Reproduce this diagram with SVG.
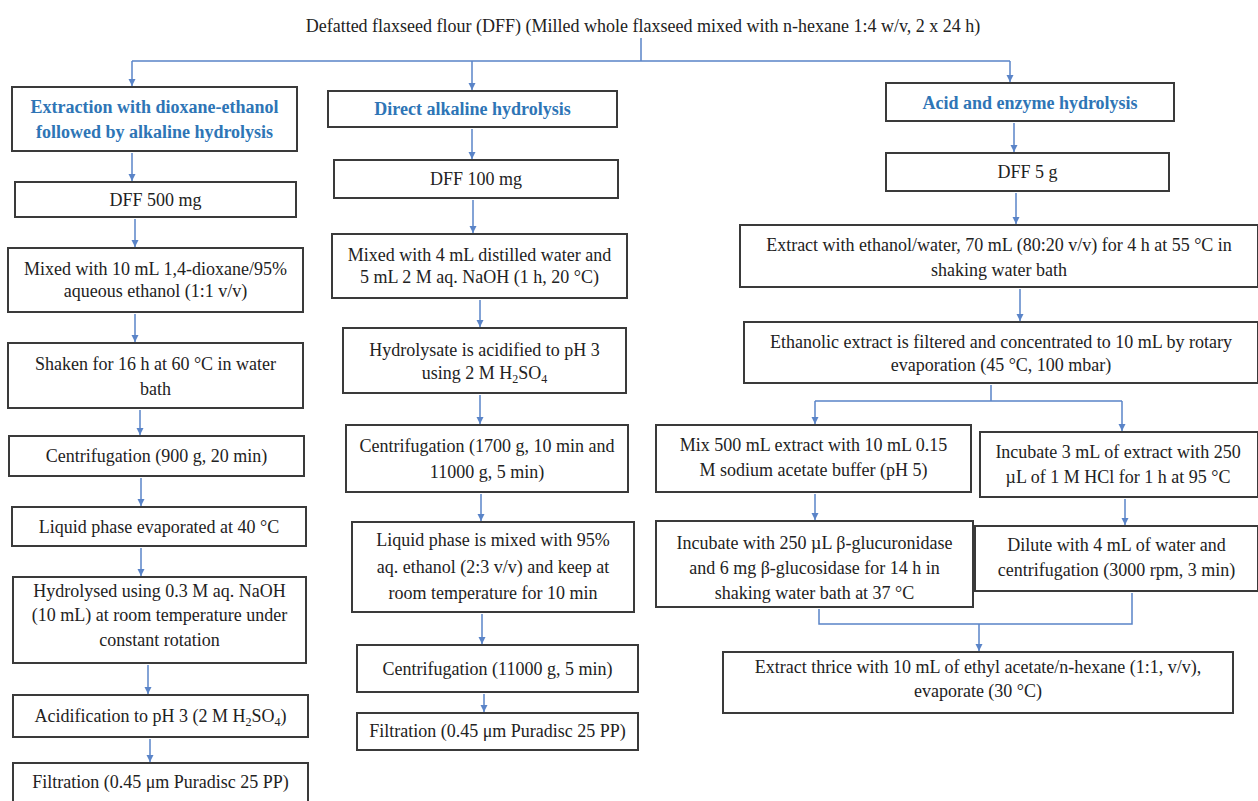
<svg xmlns="http://www.w3.org/2000/svg" width="1258" height="801" viewBox="0 0 1258 801">
<style>
.bx{fill:#fff;stroke:#3a3a3a;stroke-width:2}
.t{font-family:"Liberation Serif","Times New Roman",serif;font-size:18px;fill:#222;text-anchor:middle}
.h{font-family:"Liberation Serif","Times New Roman",serif;font-size:18px;font-weight:bold;fill:#2e75b6;text-anchor:middle}
.c{fill:none;stroke:#5a84c8;stroke-width:1.5}
.a{fill:none;stroke:#5a84c8;stroke-width:1.5;marker-end:url(#ah)}
.sub{font-size:12px}
</style>
<defs>
<marker id="ah" markerUnits="userSpaceOnUse" markerWidth="8" markerHeight="8" refX="7" refY="4" orient="auto">
<path d="M0,0.5 L7,4 L0,7.5 z" fill="#5a84c8"/>
</marker>
</defs>
<rect width="1258" height="801" fill="#fff"/>
<text id="title" class="t" x="643" y="32">Defatted flaxseed flour (DFF) (Milled whole flaxseed mixed with n-hexane 1:4 w/v, 2 x 24 h)</text>

<g id="connectors">
<path class="c" d="M641,38 V61 M132,61 H1010"/>
<path class="a" d="M132,61 V86"/>
<path class="a" d="M472,61 V90"/>
<path class="a" d="M1010,61 V82"/>
<path class="a" d="M132,153 V181"/>
<path class="a" d="M135,219 V247"/>
<path class="a" d="M135,314 V342"/>
<path class="a" d="M140,410 V435"/>
<path class="a" d="M141,478 V506"/>
<path class="a" d="M141,548 V576"/>
<path class="a" d="M148,665 V694"/>
<path class="a" d="M150,739 V762"/>
<path class="a" d="M472,129 V159"/>
<path class="a" d="M473,200 V233"/>
<path class="a" d="M480,300 V327"/>
<path class="a" d="M480,395 V424"/>
<path class="a" d="M481,494 V521"/>
<path class="a" d="M482,614 V644"/>
<path class="a" d="M484,694 V712"/>
<path class="a" d="M1014,123 V152"/>
<path class="a" d="M1016,193 V224"/>
<path class="a" d="M1020,289 V321"/>
<path class="c" d="M991,385 V401 M815,401 H1122"/>
<path class="a" d="M815,401 V424"/>
<path class="a" d="M1122,401 V431"/>
<path class="a" d="M815,494 V520"/>
<path class="a" d="M1125,499 V525"/>
<path class="c" d="M819,609 V624 H1132 V593"/>
<path class="a" d="M979,624 V651"/>
</g>

<g id="L0"><rect class="bx" x="12" y="87" width="285" height="64"/><text class="h" x="154.5" y="112.5">Extraction with dioxane-ethanol</text><text class="h" x="154.5" y="137.5">followed by alkaline hydrolysis</text></g>
<g id="L1"><rect class="bx" x="15" y="182" width="281" height="35"/><text class="t" x="155.5" y="205.5">DFF 500 mg</text></g>
<g id="L2"><rect class="bx" x="8" y="248" width="295" height="64"/><text class="t" x="155.5" y="274.5">Mixed with 10 mL 1,4-dioxane/95%</text><text class="t" x="155.5" y="297">aqueous ethanol (1:1 v/v)</text></g>
<g id="L3"><rect class="bx" x="8" y="343" width="295" height="65"/><text class="t" x="155.5" y="370">Shaken for 16 h at 60 °C in water</text><text class="t" x="155.5" y="395">bath</text></g>
<g id="L4"><rect class="bx" x="9" y="436" width="295" height="40"/><text class="t" x="156.5" y="462">Centrifugation (900 g, 20 min)</text></g>
<g id="L5"><rect class="bx" x="12" y="507" width="294" height="39"/><text class="t" x="159" y="532.5">Liquid phase evaporated at 40 °C</text></g>
<g id="L6"><rect class="bx" x="13" y="577" width="293" height="86"/><text class="t" x="159.5" y="597">Hydrolysed using 0.3 M aq. NaOH</text><text class="t" x="159.5" y="621">(10 mL) at room temperature under</text><text class="t" x="159.5" y="646">constant rotation</text></g>
<g id="L7"><rect class="bx" x="13" y="695" width="295" height="42"/><text class="t" x="160.5" y="722">Acidification to pH 3 (2 M H<tspan class="sub" dy="4">2</tspan><tspan dy="-4">SO</tspan><tspan class="sub" dy="4">4</tspan><tspan dy="-4">)</tspan></text></g>
<g id="L8"><rect class="bx" x="13" y="763" width="295" height="44"/><text class="t" x="160.5" y="788">Filtration (0.45 μm Puradisc 25 PP)</text></g>

<g id="M0"><rect class="bx" x="328" y="91" width="289" height="36"/><text class="h" x="472.5" y="115">Direct alkaline hydrolysis</text></g>
<g id="M1"><rect class="bx" x="334" y="160" width="284" height="38"/><text class="t" x="476" y="185">DFF 100 mg</text></g>
<g id="M2"><rect class="bx" x="332" y="234" width="295" height="64"/><text class="t" x="479.5" y="261">Mixed with 4 mL distilled water and</text><text class="t" x="479.5" y="283">5 mL 2 M aq. NaOH (1 h, 20 °C)</text></g>
<g id="M3"><rect class="bx" x="343" y="328" width="283" height="65"/><text class="t" x="484.5" y="356">Hydrolysate is acidified to pH 3</text><text class="t" x="484.5" y="379">using 2 M H<tspan class="sub" dy="4">2</tspan><tspan dy="-4">SO</tspan><tspan class="sub" dy="4">4</tspan></text></g>
<g id="M4"><rect class="bx" x="346" y="425" width="282" height="67"/><text class="t" x="487" y="452">Centrifugation (1700 g, 10 min and</text><text class="t" x="487" y="478">11000 g, 5 min)</text></g>
<g id="M5"><rect class="bx" x="352" y="522" width="282" height="90"/><text class="t" x="493" y="546">Liquid phase is mixed with 95%</text><text class="t" x="493" y="573">aq. ethanol (2:3 v/v) and keep at</text><text class="t" x="493" y="599">room temperature for 10 min</text></g>
<g id="M6"><rect class="bx" x="357" y="645" width="281" height="47"/><text class="t" x="497.5" y="675">Centrifugation (11000 g, 5 min)</text></g>
<g id="M7"><rect class="bx" x="357" y="713" width="281" height="37"/><text class="t" x="497.5" y="737">Filtration (0.45 μm Puradisc 25 PP)</text></g>

<g id="R0"><rect class="bx" x="886" y="83" width="288" height="38"/><text class="h" x="1030" y="108.5">Acid and enzyme hydrolysis</text></g>
<g id="R1"><rect class="bx" x="886" y="153" width="283" height="38"/><text class="t" x="1027.5" y="178">DFF 5 g</text></g>
<g id="R2"><rect class="bx" x="740" y="225" width="518" height="62"/><text class="t" x="999" y="251">Extract with ethanol/water, 70 mL (80:20 v/v) for 4 h at 55 °C in</text><text class="t" x="999" y="276">shaking water bath</text></g>
<g id="R3"><rect class="bx" x="744" y="322" width="514" height="61"/><text class="t" x="1001" y="348">Ethanolic extract is filtered and concentrated to 10 mL by rotary</text><text class="t" x="1001" y="371">evaporation (45 °C, 100 mbar)</text></g>
<g id="R4"><rect class="bx" x="656" y="425" width="315" height="67"/><text class="t" x="813.5" y="451">Mix 500 mL extract with 10 mL 0.15</text><text class="t" x="813.5" y="476">M sodium acetate buffer (pH 5)</text></g>
<g id="R5"><rect class="bx" x="980" y="432" width="278" height="65"/><text class="t" x="1118" y="458">Incubate 3 mL of extract with 250</text><text class="t" x="1118" y="483">µL of 1 M HCl for 1 h at 95 °C</text></g>
<g id="R6"><rect class="bx" x="656" y="521" width="317" height="86"/><text class="t" x="814.5" y="549">Incubate with 250 µL β-glucuronidase</text><text class="t" x="814.5" y="574">and 6 mg β-glucosidase for 14 h in</text><text class="t" x="814.5" y="599">shaking water bath at 37 °C</text></g>
<g id="R7"><rect class="bx" x="975" y="526" width="283" height="65"/><text class="t" x="1116.5" y="551">Dilute with 4 mL of water and</text><text class="t" x="1116.5" y="576">centrifugation (3000 rpm, 3 min)</text></g>
<g id="R8"><rect class="bx" x="723" y="652" width="510" height="61"/><text class="t" x="978" y="673">Extract thrice with 10 mL of ethyl acetate/n-hexane (1:1, v/v),</text><text class="t" x="978" y="697">evaporate (30 °C)</text></g>
</svg>
